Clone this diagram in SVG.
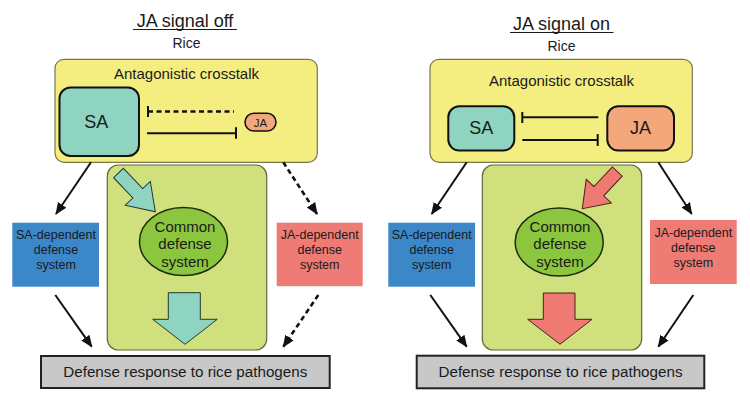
<svg xmlns="http://www.w3.org/2000/svg" width="750" height="400" viewBox="0 0 750 400">
<defs>
<style>
text{font-family:"Liberation Sans",Arial,sans-serif;fill:#1a1a1a;text-anchor:middle}
.title{font-size:18px}
.sub{font-size:14px}
.hdr{font-size:15px}
.big{font-size:18px}
.dep{font-size:12.5px}
.cm{font-size:15px}
.resp{font-size:15.2px}
.yel{fill:#f4ee80;stroke:#7a7650;stroke-width:1.2}
.grn{fill:#d0e07c;stroke:#5f6a3a;stroke-width:1.2}
.sa{fill:#8fd3c1;stroke:#111;stroke-width:2}
.ja{fill:#f2a87a;stroke:#111;stroke-width:2}
.ell{fill:#8cc63f;stroke:#1f2a10;stroke-width:1.5}
.blue{fill:#3b87c8}
.red{fill:#ee7c75}
.gray{fill:#c8c8c8;stroke:#222;stroke-width:2}
.ln{stroke:#111;stroke-width:2;fill:none}
.dash{stroke-dasharray:5 3.5;stroke-width:2.6}
.arr{marker-end:url(#ah)}
.tarrow{fill:#8fd3c1;stroke:#1f3a33;stroke-width:1}
.rarrow{fill:#ee7a73;stroke:#4a1f1c;stroke-width:1}
</style>
<marker id="ah" markerUnits="userSpaceOnUse" markerWidth="12" markerHeight="12" viewBox="0 0 12 12" refX="11" refY="6" orient="auto">
<path d="M0,1 L12,6 L0,11 Z" fill="#111"/>
</marker>
</defs>

<!-- LEFT PANEL -->
<g id="title-left">
<text class="title" x="185" y="26.7">JA signal off</text>
<line x1="133" y1="29.5" x2="237" y2="29.5" stroke="#1a1a1a" stroke-width="1"/>
<text class="sub" x="186.5" y="48.3">Rice</text>
</g>
<g id="crosstalk-left">
<rect class="yel" x="55" y="59.3" width="262.3" height="103" rx="9"/>
<text class="hdr" x="186.5" y="79">Antagonistic crosstalk</text>
</g>
<g id="sa-left">
<rect class="sa" x="59.5" y="87.5" width="79.5" height="68.5" rx="11"/>
<text class="big" x="96.3" y="127.7">SA</text>
</g>
<g id="ja-left">
<rect x="245" y="113.3" width="31" height="17.7" rx="8.8" fill="#f2a87a" stroke="#111" stroke-width="1.5"/>
<text x="260.5" y="127" style="font-size:11.5px">JA</text>
</g>
<g id="common-left">
<rect class="grn" x="107.3" y="165" width="159.4" height="185" rx="11"/>
<polygon class="tarrow" points="0,-6.8 28,-6.8 28,-17.3 53.5,0 28,17.3 28,6.8 0,6.8" transform="translate(118.5,173) rotate(46.5)"/>
<ellipse class="ell" cx="183.5" cy="241.5" rx="44" ry="34"/>
<text class="cm" x="185" y="231.7">Common</text>
<text class="cm" x="185" y="249.3">defense</text>
<text class="cm" x="185" y="266.7">system</text>
<polygon class="tarrow" points="168.3,292.7 200.3,292.7 200.3,319.3 217.3,319.3 185,344.3 152.7,319.3 168.3,319.3"/>
</g>
<g id="sadep-left">
<rect class="blue" x="12.3" y="222.7" width="86.7" height="64"/>
<text class="dep" x="56" y="239.3">SA-dependent</text>
<text class="dep" x="56" y="254.3">defense</text>
<text class="dep" x="56" y="269.3">system</text>
</g>
<g id="jadep-left">
<rect class="red" x="276.7" y="222.7" width="86" height="63.5"/>
<text class="dep" x="319.7" y="239.3">JA-dependent</text>
<text class="dep" x="319.7" y="254.3">defense</text>
<text class="dep" x="319.7" y="269.3">system</text>
</g>
<g id="response-left">
<rect class="gray" x="41" y="356" width="288.7" height="32"/>
<text class="resp" x="185.3" y="376.7">Defense response to rice pathogens</text>
</g>

<!-- RIGHT PANEL -->
<g id="title-right">
<text class="title" x="561.5" y="29.5">JA signal on</text>
<line x1="510" y1="32.5" x2="613.5" y2="32.5" stroke="#1a1a1a" stroke-width="1"/>
<text class="sub" x="561.5" y="50.5">Rice</text>
</g>
<g id="crosstalk-right">
<rect class="yel" x="430" y="59.3" width="262.3" height="103" rx="9"/>
<text class="hdr" x="561.5" y="85.5">Antagonistic crosstalk</text>
</g>
<g id="sa-right">
<rect class="sa" x="448.3" y="106.3" width="66" height="44.3" rx="11"/>
<text class="big" x="481.3" y="134.3">SA</text>
</g>
<g id="ja-right">
<rect class="ja" x="607.3" y="106.3" width="66.7" height="44.3" rx="11"/>
<text class="big" x="640.5" y="134.3">JA</text>
</g>
<g id="common-right">
<rect class="grn" x="482.3" y="165" width="159.4" height="185" rx="11"/>
<polygon class="rarrow" points="0,-6.8 27,-6.8 27,-17.2 51,0 27,17.2 27,6.8 0,6.8" transform="translate(617.3,171.5) rotate(133.3)"/>
<ellipse class="ell" cx="559.2" cy="242" rx="44" ry="34"/>
<text class="cm" x="560" y="231.7">Common</text>
<text class="cm" x="560" y="249.3">defense</text>
<text class="cm" x="560" y="266.7">system</text>
<polygon class="rarrow" points="543.3,293 575,293 575,319.3 592,319.3 560,344.3 527.7,319.3 543.3,319.3"/>
</g>
<g id="sadep-right">
<rect class="blue" x="388.3" y="222.7" width="86.7" height="64"/>
<text class="dep" x="431.7" y="239.3">SA-dependent</text>
<text class="dep" x="431.7" y="254.3">defense</text>
<text class="dep" x="431.7" y="269.3">system</text>
</g>
<g id="jadep-right">
<rect class="red" x="650" y="220" width="86.7" height="64"/>
<text class="dep" x="693.3" y="236.7">JA-dependent</text>
<text class="dep" x="693.3" y="251.7">defense</text>
<text class="dep" x="693.3" y="266.7">system</text>
</g>
<g id="response-right">
<rect class="gray" x="416.7" y="355.7" width="287.6" height="32.6"/>
<text class="resp" x="560.5" y="376.7">Defense response to rice pathogens</text>
</g>

<!-- CONNECTORS -->
<g id="connectors">
<!-- left inhibitions -->
<line class="ln dash" x1="148" y1="111.5" x2="234" y2="111.5"/>
<line class="ln" x1="148" y1="106" x2="148" y2="117"/>
<line class="ln" x1="147" y1="133.3" x2="236" y2="133.3"/>
<line class="ln" x1="236" y1="127.3" x2="236" y2="138.8"/>
<!-- right inhibitions -->
<line class="ln" x1="522.3" y1="117.3" x2="598.3" y2="117.3"/>
<line class="ln" x1="522.3" y1="112" x2="522.3" y2="123"/>
<line class="ln" x1="522.3" y1="140" x2="597.7" y2="140"/>
<line class="ln" x1="597.7" y1="134" x2="597.7" y2="146"/>
<!-- left arrows -->
<line class="ln arr" x1="91" y1="162.3" x2="56" y2="214"/>
<line class="ln dash arr" x1="283.3" y1="162.3" x2="317" y2="214"/>
<line class="ln arr" x1="55.3" y1="295" x2="91.7" y2="346.7"/>
<line class="ln dash arr" x1="318.3" y1="295" x2="283.3" y2="346.7"/>
<!-- right arrows -->
<line class="ln arr" x1="466.7" y1="162.3" x2="431.7" y2="214"/>
<line class="ln arr" x1="658.3" y1="162.3" x2="691.7" y2="214"/>
<line class="ln arr" x1="430.3" y1="295" x2="466.7" y2="346.7"/>
<line class="ln arr" x1="693.3" y1="295" x2="658.3" y2="346.7"/>
</g>
</svg>
